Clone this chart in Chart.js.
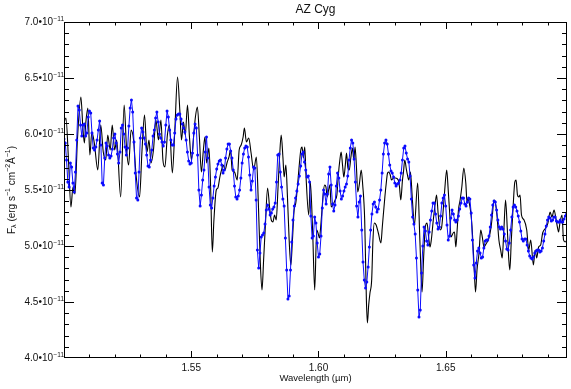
<!DOCTYPE html>
<html>
<head>
<meta charset="utf-8">
<script src="https://cdn.jsdelivr.net/npm/chart.js@4"></script>
<style>
  html, body { margin: 0; padding: 0; background: #fff; }
  canvas { display: block; }
</style>
</head>
<body>
<canvas id="c" width="571" height="389"></canvas>
<script>
// Texts and tick marks
const TITLE = 'AZ Cyg';
const X_TITLE = 'Wavelength (\u00b5m)';
const X_TICKS = [1.55, 1.60, 1.65];
const X_TICK_LABELS = ['1.55', '1.60', '1.65'];
const Y_TICKS = [4.0, 4.5, 5.0, 5.5, 6.0, 6.5, 7.0];
const Y_TICK_LABELS = ['4.0', '4.5', '5.0', '5.5', '6.0', '6.5', '7.0'];
const Y_TICK_EXPONENT = '\u221211';

// Observed spectrum: wavelength (µm) and flux in units of 1e-11 erg s^-1 cm^-2 Å^-1
const WAVE = [
  1.5000,1.5005,1.5010,1.5015,1.5020,1.5025,1.5030,1.5035,1.5040,1.5045,1.5050,1.5055,1.5060,1.5065,1.5070,1.5075,1.5080,1.5085,1.5090,1.5095,
  1.5100,1.5105,1.5110,1.5115,1.5120,1.5125,1.5130,1.5135,1.5140,1.5145,1.5150,1.5155,1.5160,1.5165,1.5170,1.5175,1.5180,1.5185,1.5190,1.5195,
  1.5200,1.5205,1.5210,1.5215,1.5220,1.5225,1.5230,1.5235,1.5240,1.5245,1.5250,1.5255,1.5260,1.5265,1.5270,1.5275,1.5280,1.5285,1.5290,1.5295,
  1.5300,1.5305,1.5310,1.5315,1.5320,1.5325,1.5330,1.5335,1.5340,1.5345,1.5350,1.5355,1.5360,1.5365,1.5370,1.5375,1.5380,1.5385,1.5390,1.5395,
  1.5400,1.5405,1.5410,1.5415,1.5420,1.5425,1.5430,1.5435,1.5440,1.5445,1.5450,1.5455,1.5460,1.5465,1.5470,1.5475,1.5480,1.5485,1.5490,1.5495,
  1.5500,1.5505,1.5510,1.5515,1.5520,1.5525,1.5530,1.5535,1.5540,1.5545,1.5550,1.5555,1.5560,1.5565,1.5570,1.5575,1.5580,1.5585,1.5590,1.5595,
  1.5600,1.5605,1.5610,1.5615,1.5620,1.5625,1.5630,1.5635,1.5640,1.5645,1.5650,1.5655,1.5660,1.5665,1.5670,1.5675,1.5680,1.5685,1.5690,1.5695,
  1.5700,1.5705,1.5710,1.5715,1.5720,1.5725,1.5730,1.5735,1.5740,1.5745,1.5750,1.5755,1.5760,1.5765,1.5770,1.5775,1.5780,1.5785,1.5790,1.5795,
  1.5800,1.5805,1.5810,1.5815,1.5820,1.5825,1.5830,1.5835,1.5840,1.5845,1.5850,1.5855,1.5860,1.5865,1.5870,1.5875,1.5880,1.5885,1.5890,1.5895,
  1.5900,1.5905,1.5910,1.5915,1.5920,1.5925,1.5930,1.5935,1.5940,1.5945,1.5950,1.5955,1.5960,1.5965,1.5970,1.5975,1.5980,1.5985,1.5990,1.5995,
  1.6000,1.6005,1.6010,1.6015,1.6020,1.6025,1.6030,1.6035,1.6040,1.6045,1.6050,1.6055,1.6060,1.6065,1.6070,1.6075,1.6080,1.6085,1.6090,1.6095,
  1.6100,1.6105,1.6110,1.6115,1.6120,1.6125,1.6130,1.6135,1.6140,1.6145,1.6150,1.6155,1.6160,1.6165,1.6170,1.6175,1.6180,1.6185,1.6190,1.6195,
  1.6200,1.6205,1.6210,1.6215,1.6220,1.6225,1.6230,1.6235,1.6240,1.6245,1.6250,1.6255,1.6260,1.6265,1.6270,1.6275,1.6280,1.6285,1.6290,1.6295,
  1.6300,1.6305,1.6310,1.6315,1.6320,1.6325,1.6330,1.6335,1.6340,1.6345,1.6350,1.6355,1.6360,1.6365,1.6370,1.6375,1.6380,1.6385,1.6390,1.6395,
  1.6400,1.6405,1.6410,1.6415,1.6420,1.6425,1.6430,1.6435,1.6440,1.6445,1.6450,1.6455,1.6460,1.6465,1.6470,1.6475,1.6480,1.6485,1.6490,1.6495,
  1.6500,1.6505,1.6510,1.6515,1.6520,1.6525,1.6530,1.6535,1.6540,1.6545,1.6550,1.6555,1.6560,1.6565,1.6570,1.6575,1.6580,1.6585,1.6590,1.6595,
  1.6600,1.6605,1.6610,1.6615,1.6620,1.6625,1.6630,1.6635,1.6640,1.6645,1.6650,1.6655,1.6660,1.6665,1.6670,1.6675,1.6680,1.6685,1.6690,1.6695,
  1.6700,1.6705,1.6710,1.6715,1.6720,1.6725,1.6730,1.6735,1.6740,1.6745,1.6750,1.6755,1.6760,1.6765,1.6770,1.6775,1.6780,1.6785,1.6790,1.6795,
  1.6800,1.6805,1.6810,1.6815,1.6820,1.6825,1.6830,1.6835,1.6840,1.6845,1.6850,1.6855,1.6860,1.6865,1.6870,1.6875,1.6880,1.6885,1.6890,1.6895,
  1.6900,1.6905,1.6910,1.6915,1.6920,1.6925,1.6930,1.6935,1.6940,1.6945,1.6950,1.6955,1.6960,1.6965,1.6970,1.6975
];
const OBS_FLUX = [
  5.955,5.920,5.768,5.571,5.527,5.741,5.705,5.563,5.482,5.661,5.946,6.250,6.214,6.080,5.982,6.080,6.089,5.982,6.009,6.152,
  6.205,6.187,6.009,5.875,5.857,5.884,5.946,6.036,6.116,5.902,5.563,5.545,5.786,5.920,5.893,5.813,5.786,5.804,5.866,5.964,
  6.000,5.920,5.821,5.741,5.839,6.054,6.080,6.000,5.884,5.813,5.875,6.071,6.232,6.304,6.196,5.929,5.652,5.429,5.411,5.661,
  5.964,6.054,6.018,5.964,5.911,5.813,5.714,5.705,5.768,5.857,5.982,6.036,6.143,6.196,6.107,6.000,5.964,5.929,5.893,5.929,
  6.080,6.205,6.152,6.036,5.946,5.902,5.902,6.009,6.134,6.170,6.179,6.179,6.134,6.089,6.054,6.018,5.946,5.839,5.759,5.732,
  5.741,5.830,6.009,6.089,6.054,5.813,5.500,5.357,5.455,5.589,5.679,5.839,5.973,5.786,5.527,5.366,5.339,5.429,5.536,5.616,
  5.687,5.732,5.759,5.768,5.723,5.652,5.679,5.786,5.866,5.911,5.911,5.848,5.786,5.679,5.536,5.438,5.420,5.446,5.500,5.607,
  5.741,5.821,5.875,5.893,5.884,5.795,5.634,5.500,5.580,5.705,5.696,5.411,4.964,4.804,4.937,5.080,5.098,5.116,5.196,5.321,
  5.366,5.330,5.277,5.295,5.330,5.348,5.384,5.571,5.813,5.821,5.661,5.527,5.420,5.357,5.071,4.786,4.527,4.554,4.786,5.036,
  5.232,5.357,5.429,5.491,5.554,5.625,5.714,5.821,5.839,5.750,5.679,5.616,5.625,5.571,5.268,5.071,5.089,5.259,5.205,5.027,
  4.902,4.929,5.089,5.339,5.500,5.464,5.375,5.464,5.643,5.705,5.545,5.375,5.313,5.366,5.536,5.652,5.607,5.491,5.420,5.446,
  5.491,5.527,5.554,5.625,5.768,5.875,5.946,5.920,5.777,5.571,5.357,5.259,5.393,5.446,5.143,4.857,4.696,4.625,4.679,4.813,
  4.991,5.143,5.286,5.375,5.393,5.348,5.304,5.330,5.411,5.500,5.652,5.821,5.920,5.946,5.911,5.821,5.723,5.670,5.652,5.616,
  5.563,5.536,5.554,5.563,5.589,5.652,5.768,5.875,5.893,5.830,5.777,5.750,5.625,5.420,5.259,5.196,5.107,4.893,4.607,4.366,
  4.429,4.759,5.000,5.170,5.134,5.045,5.009,5.125,5.232,5.313,5.384,5.384,5.286,5.205,5.152,5.170,5.268,5.384,5.429,5.455,
  5.357,5.187,5.054,5.089,5.250,5.321,5.286,5.232,5.214,5.232,5.268,5.330,5.384,5.429,5.429,5.375,5.357,5.393,5.429,5.420,
  5.295,5.054,4.830,4.714,4.848,4.955,4.982,4.938,4.893,4.902,4.982,5.045,5.054,5.054,5.089,5.170,5.277,5.366,5.402,5.393,
  5.321,5.232,5.170,5.152,5.170,5.152,5.107,5.045,4.973,4.964,5.027,5.143,5.259,5.348,5.366,5.348,5.313,5.268,5.214,5.134,
  5.063,5.045,5.063,5.063,5.009,4.955,4.911,4.893,4.884,4.902,4.938,4.955,4.964,4.964,4.946,4.955,4.982,5.045,5.107,5.179,
  5.232,5.259,5.250,5.223,5.232,5.259,5.259,5.223,5.214,5.214,5.232,5.214,5.214,5.241,5.268,5.286
];

// Model spectrum (same units), sampled at its turning points
const MODEL_WAVE = [
  1.50000,1.50078,1.50176,1.50273,1.50352,1.50430,1.50527,1.50664,1.50742,1.50801,
  1.50859,1.50938,1.51016,1.51094,1.51191,1.51328,1.51445,1.51543,1.51641,1.51719,
  1.51816,1.51895,1.51992,1.52070,1.52227,1.52363,1.52461,1.52539,1.52637,1.52734,
  1.52832,1.52969,1.53066,1.53164,1.53262,1.53340,1.53418,1.53516,1.53613,1.53711,
  1.53809,1.53887,1.53965,1.54063,1.54141,1.54258,1.54355,1.54461,1.54551,1.54617,
  1.54695,1.54766,1.54852,1.54930,1.55008,1.55098,1.55164,1.55242,1.55320,1.55398,
  1.55477,1.55539,1.55605,1.55695,1.55762,1.55828,1.55891,1.55984,1.56047,1.56125,
  1.56191,1.56258,1.56328,1.56414,1.56484,1.56543,1.56609,1.56699,1.56805,1.56883,
  1.56961,1.57039,1.57090,1.57168,1.57258,1.57352,1.57453,1.57559,1.57637,1.57715,
  1.57781,1.57844,1.57910,1.58000,1.58078,1.58145,1.58211,1.58273,1.58340,1.58406,
  1.58469,1.58535,1.58602,1.58652,1.58719,1.58781,1.58848,1.58914,1.58977,1.59043,
  1.59109,1.59172,1.59238,1.59305,1.59355,1.59406,1.59461,1.59512,1.59617,1.59680,
  1.59773,1.59852,1.59930,1.59980,1.60039,1.60086,1.60137,1.60188,1.60242,1.60293,
  1.60344,1.60398,1.60449,1.60500,1.60566,1.60656,1.60723,1.60781,1.60840,1.60891,
  1.60945,1.60996,1.61055,1.61102,1.61152,1.61211,1.61270,1.61336,1.61387,1.61438,
  1.61492,1.61543,1.61602,1.61680,1.61738,1.61816,1.61883,1.61922,1.61973,1.62023,
  1.62090,1.62141,1.62195,1.62266,1.62352,1.62453,1.62508,1.62609,1.62664,1.62715,
  1.62766,1.62820,1.62871,1.62949,1.63027,1.63133,1.63184,1.63234,1.63301,1.63340,
  1.63391,1.63457,1.63496,1.63547,1.63613,1.63691,1.63770,1.63898,1.63984,1.64070,
  1.64133,1.64199,1.64266,1.64328,1.64383,1.64434,1.64512,1.64590,1.64641,1.64707,
  1.64785,1.64836,1.64902,1.64961,1.65039,1.65098,1.65156,1.65207,1.65293,1.65344,
  1.65398,1.65449,1.65500,1.65566,1.65633,1.65711,1.65789,1.65840,1.65879,1.65918,
  1.65996,1.66047,1.66113,1.66172,1.66230,1.66309,1.66375,1.66438,1.66504,1.66582,
  1.66699,1.66777,1.66828,1.66895,1.66953,1.67012,1.67090,1.67160,1.67219,1.67285,
  1.67352,1.67422,1.67480,1.67520,1.67578,1.67648,1.67715,1.67766,1.67820,1.67871,
  1.67922,1.67977,1.68078,1.68184,1.68262,1.68340,1.68445,1.68516,1.68574,1.68652,
  1.68730,1.68809,1.68926,1.69016,1.69102,1.69172,1.69258,1.69328,1.69395,1.69434,
  1.69492,1.69570,1.69629,1.69695,1.69766
];
const MODEL_FLUX = [
  6.098,6.143,5.768,5.348,5.527,5.464,5.946,6.330,6.054,5.920,
  6.107,6.232,5.813,6.018,5.920,5.679,6.080,5.839,5.768,5.991,
  5.857,6.080,5.857,5.946,5.438,6.259,5.857,5.723,6.036,5.946,
  5.634,5.438,5.857,6.170,5.839,5.946,5.741,5.857,6.125,5.946,
  6.125,5.768,5.705,5.991,6.080,5.652,6.036,6.509,6.214,5.946,
  6.107,5.991,6.259,5.973,5.768,5.991,6.152,6.241,5.973,5.661,
  5.857,5.973,5.741,5.875,5.527,4.946,5.232,5.500,5.518,5.616,
  5.679,5.723,5.679,5.750,5.795,5.857,5.679,5.661,5.589,5.857,
  5.902,5.973,6.054,5.929,5.964,5.830,5.679,5.795,5.384,4.848,
  4.607,4.875,5.170,5.518,5.348,5.232,5.214,5.277,5.232,5.500,
  5.786,5.991,5.795,5.616,5.723,5.438,5.054,4.830,5.054,5.321,
  5.384,5.527,5.705,5.857,5.884,5.786,5.884,5.616,5.277,5.571,
  5.116,4.607,5.143,5.116,5.071,5.170,5.321,5.473,5.545,5.527,
  5.438,5.500,5.545,5.348,5.366,5.411,5.455,5.634,5.768,5.839,
  5.723,5.616,5.723,5.830,5.705,5.679,5.786,5.875,5.768,5.884,
  5.705,5.482,5.545,5.679,5.545,5.232,4.518,4.312,4.473,4.580,
  4.696,5.054,5.205,5.187,5.116,5.027,5.170,5.438,5.563,5.652,
  5.661,5.634,5.589,5.607,5.607,5.589,5.527,5.411,5.589,5.661,
  5.768,5.679,5.634,5.589,5.661,5.411,5.187,5.563,5.054,4.589,
  4.902,5.170,5.205,5.080,4.991,5.054,5.232,5.384,5.455,5.277,
  5.143,5.161,5.321,5.500,5.679,5.500,5.295,5.080,5.116,5.125,
  4.991,5.143,5.321,5.411,5.527,5.696,5.563,5.384,5.429,5.393,
  5.277,5.125,4.830,4.589,4.786,4.938,5.143,5.080,4.991,5.018,
  5.071,5.161,5.259,5.411,5.384,5.277,5.054,4.964,4.893,5.143,
  5.411,5.143,4.875,4.786,5.054,5.348,5.571,5.589,5.455,5.438,
  5.455,5.277,5.232,5.143,4.964,5.054,4.830,4.964,4.893,4.991,
  5.009,5.116,5.161,5.205,5.304,5.259,5.321,5.250,5.161,5.125,
  5.214,5.277,5.054,5.036,5.054
];

const X_MIN = 1.5, X_MAX = 1.69766;
const Y_MIN = 4.0, Y_MAX = 7.0;
const FONT = '"Liberation Sans", Arial, Helvetica, sans-serif';

// Box frame, inward ticks on all four sides, and all text
const decor = {
  id: 'decor',
  afterDraw(chart) {
    const { ctx, chartArea: a, scales: { x, y } } = chart;
    ctx.save();
    ctx.strokeStyle = '#000';
    ctx.lineWidth = 1;
    ctx.strokeRect(a.left + 0.5, a.top + 0.5, a.right - a.left - 1, a.bottom - a.top - 1);

    ctx.beginPath();
    for (let k = 1; X_MIN + k * 0.01 < X_MAX; k++) {
      const px = Math.round(x.getPixelForValue(X_MIN + k * 0.01)) + 0.5;
      const len = k % 5 === 0 ? 7 : 3.5;
      ctx.moveTo(px, a.bottom); ctx.lineTo(px, a.bottom - len);
      ctx.moveTo(px, a.top); ctx.lineTo(px, a.top + len);
    }
    for (let k = 1; k < 30; k++) {
      const py = Math.round(y.getPixelForValue(Y_MIN + k * 0.1)) + 0.5;
      const len = k % 5 === 0 ? 10 : 5;
      ctx.moveTo(a.left, py); ctx.lineTo(a.left + len, py);
      ctx.moveTo(a.right, py); ctx.lineTo(a.right - len, py);
    }
    ctx.stroke();

    ctx.fillStyle = '#111';
    // x tick labels
    ctx.font = '10px ' + FONT;
    ctx.textAlign = 'center';
    ctx.textBaseline = 'middle';
    X_TICKS.forEach((v, i) => ctx.fillText(X_TICK_LABELS[i], x.getPixelForValue(v), a.bottom + 10));

    // y tick labels with exponent
    Y_TICKS.forEach((v, i) => {
      const py = y.getPixelForValue(v);
      ctx.font = '10px ' + FONT;
      ctx.textAlign = 'right';
      ctx.fillText(Y_TICK_LABELS[i] + '\u202210', a.left - 11, py + 0.5);
      ctx.font = '6.5px ' + FONT;
      ctx.textAlign = 'left';
      ctx.fillText(Y_TICK_EXPONENT, a.left - 10.5, py - 3);
    });

    // title and x title
    const cx = (a.left + a.right) / 2;
    ctx.textAlign = 'center';
    ctx.font = '12px ' + FONT;
    ctx.fillText(TITLE, cx, 10);
    ctx.font = '9.5px ' + FONT;
    ctx.fillText(X_TITLE, cx, 378);

    // rotated y title with sub/superscripts
    const parts = [
      ['F', 10, 0], ['\u03bb', 7, 2.5], [' (erg s', 10, 0], ['\u22121', 7, -3.5],
      [' cm', 10, 0], ['\u22122', 7, -3.5], ['\u00c5', 10, 0], ['\u22121', 7, -3.5], [')', 10, 0]
    ];
    let total = 0;
    parts.forEach(p => { ctx.font = p[1] + 'px ' + FONT; total += ctx.measureText(p[0]).width; });
    ctx.translate(12, (a.top + a.bottom) / 2);
    ctx.rotate(-Math.PI / 2);
    ctx.textAlign = 'left';
    let pos = -total / 2;
    parts.forEach(p => {
      ctx.font = p[1] + 'px ' + FONT;
      ctx.fillText(p[0], pos, p[2]);
      pos += ctx.measureText(p[0]).width;
    });
    ctx.restore();
  }
};

new Chart(document.getElementById('c'), {
  type: 'line',
  data: {
    datasets: [
      {
        label: 'observed',
        data: WAVE.map((w, i) => ({ x: w, y: OBS_FLUX[i] })),
        borderColor: '#0a0aff',
        backgroundColor: '#0a0aff',
        borderWidth: 1,
        pointRadius: 1.5,
        pointBorderWidth: 0,
        tension: 0
      },
      {
        label: 'model',
        data: MODEL_WAVE.map((w, i) => ({ x: w, y: MODEL_FLUX[i] })),
        borderColor: '#000',
        borderWidth: 1.1,
        pointRadius: 0,
        cubicInterpolationMode: 'monotone'
      }
    ]
  },
  options: {
    responsive: false,
    animation: false,
    devicePixelRatio: 1,
    layout: { padding: { top: 22, right: 1, left: 0, bottom: 0 } },
    plugins: { legend: { display: false }, tooltip: { enabled: false } },
    scales: {
      x: {
        type: 'linear', min: X_MIN, max: X_MAX,
        grid: { display: false }, border: { display: false },
        ticks: { display: false },
        afterFit(s) { s.height = 31; }
      },
      y: {
        type: 'linear', min: Y_MIN, max: Y_MAX,
        grid: { display: false }, border: { display: false },
        ticks: { display: false },
        afterFit(s) { s.width = 64; }
      }
    }
  },
  plugins: [decor]
});
</script>
</body>
</html>
